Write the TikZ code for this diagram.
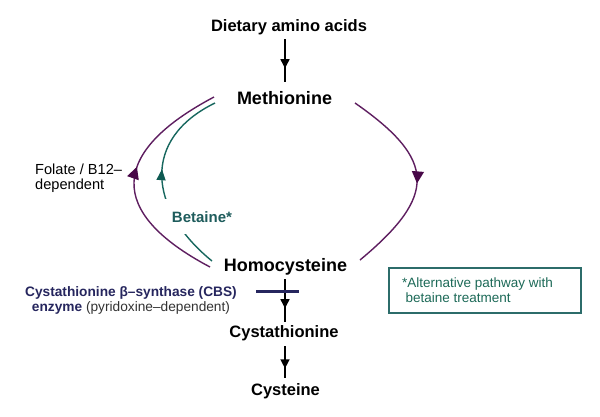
\documentclass[tikz,border=0pt]{standalone}
\usepackage{fontspec}
\setmainfont{Liberation Sans}
\usetikzlibrary{arrows.meta,decorations.markings}
\definecolor{purp}{HTML}{5E1E60}
\definecolor{purpdark}{HTML}{480848}
\definecolor{tealc}{HTML}{17675E}
\definecolor{tealdark}{HTML}{0E5A52}
\definecolor{tealtxt}{HTML}{1E5C5C}
\definecolor{navy}{HTML}{26265E}
\definecolor{boxtxt}{HTML}{1D6A58}
\definecolor{boxline}{HTML}{2C6C6A}
\tikzset{
  biglbl/.style={font=\fontsize{18}{20}\selectfont\bfseries, inner sep=0pt, anchor=base},
  midlbl/.style={font=\fontsize{16.5}{18}\selectfont\bfseries, inner sep=0pt, anchor=base},
  conn/.style={line width=1.4pt, draw=black},
  marrow/.style={postaction={decorate}, decoration={markings,
      mark=at position #1 with {\arrow{Triangle[length=9pt,width=9pt]}}}},
  arcpurp/.style={line width=1.4pt, draw=purp, postaction={decorate}, decoration={markings,
      mark=at position #1 with {\arrow[purpdark]{Triangle[length=12pt,width=12pt]}}}},
  arcteal/.style={line width=1.4pt, draw=tealc, postaction={decorate}, decoration={markings,
      mark=at position #1 with {\arrow[tealdark]{Triangle[length=11pt,width=9pt]}}}},
}
\begin{document}
\begin{tikzpicture}[x=1pt,y=-1pt]
\useasboundingbox[fill=white] (0,0) rectangle (600,416);

% main labels
\node[midlbl] (diet) at (289,31) {Dietary amino acids};
\node[biglbl] (meth) at (284.5,104) {Methionine};
\node[biglbl] (homo) at (285.5,271) {Homocysteine};
\node[midlbl] (cysta) at (284,337) {Cystathionine};
\node[midlbl] (cyste) at (285.5,395) {Cysteine};

% vertical connectors
\coordinate (d1) at (285,39);
\coordinate (d2) at (285,82);
\coordinate (h1) at (285,279);
\coordinate (h2) at (285,322);
\coordinate (c1) at (285,346);
\coordinate (c2) at (285,378);
\draw[conn, marrow=0.68] (d1) -- (d2);
\draw[conn, marrow=0.68] (h1) -- (h2);
\draw[conn, marrow=0.70] (c1) -- (c2);

% blocking bar
\coordinate (barL) at (256,291);
\coordinate (barR) at (299,291);
\draw[navy, line width=3pt] (barL) -- (barR);

% arcs
\coordinate (lpS) at (210,267);
\coordinate (lpE) at (214,97);
\draw[arcpurp=0.56] (lpS) .. controls (106,212) and (110,152) .. (lpE);

\coordinate (ltS) at (212,261);
\coordinate (ltE) at (215,103);
\draw[arcteal=0.55] (ltS) .. controls (148,209) and (141,139) .. (ltE);

\coordinate (rpS) at (355,103);
\coordinate (rpE) at (360,260);
\draw[arcpurp=0.52] (rpS) .. controls (437,160) and (437,196) .. (rpE);

% betaine label (gap in teal arc)
\node[font=\fontsize{15}{17}\selectfont\bfseries, text=tealtxt, fill=white,
      inner xsep=10pt, inner ysep=12pt, anchor=base] (bet) at (202,222) {Betaine*};

% side labels
\node[font=\fontsize{14.6}{15}\selectfont, align=left, inner sep=0pt, anchor=north west]
  (fol) at (35,164) {Folate / B12–\\dependent};
\node[font=\fontsize{13.7}{15}\selectfont, align=center, inner sep=0pt, anchor=north, text=navy]
  (cbs) at (131,286.8) {\textbf{Cystathionine β–synthase (CBS)}\\\textbf{enzyme} {\color{black!80}(pyridoxine–dependent)}};

% note box
\node[draw=boxline, line width=1.5pt, minimum width=192pt, minimum height=45pt, inner sep=0pt]
  (box) at (485,290.5) {};
\node[font=\fontsize{13.5}{15}\selectfont, align=left, inner sep=0pt, anchor=north west, text=boxtxt]
  (note) at (402,278) {*Alternative pathway with\\\hspace*{3.5pt}betaine treatment};
\end{tikzpicture}
\end{document}
